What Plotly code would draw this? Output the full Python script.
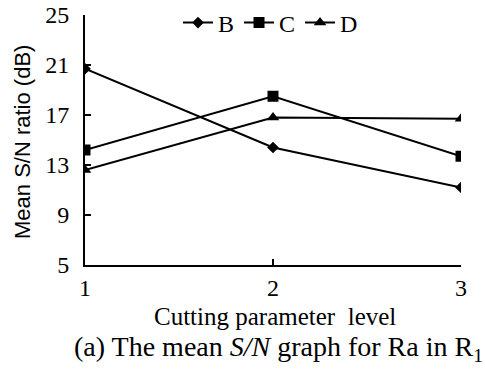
import plotly.graph_objects as go

levels = [1, 2, 3]
series_names = ["B", "C", "D"]
b_vals = [20.7, 14.4, 11.2]
c_vals = [14.2, 18.5, 13.7]
d_vals = [12.6, 16.8, 16.7]
y_ticks = [5, 9, 13, 17, 21, 25]
markers = ["diamond", "square", "triangle-up"]
marker_sizes = [9, 11, 11]

fig = go.Figure()
for name, vals, sym, ms in zip(series_names, [b_vals, c_vals, d_vals], markers, marker_sizes):
    fig.add_trace(go.Scatter(
        x=levels, y=vals, mode="lines+markers", name=name,
        line=dict(color="black", width=2),
        marker=dict(symbol=sym, size=ms, color="black"),
    ))

serif = "Liberation Serif"
L, R, T, B = 85, 24, 15, 106
pw = 485 - L - R
ph = 371 - T - B

def px(xp):
    return (xp - L) / pw

def py(yp):
    return (371 - B - yp) / ph

fig.update_layout(
    width=485, height=371,
    margin=dict(l=L, r=R, t=T, b=B, autoexpand=False),
    plot_bgcolor="white", paper_bgcolor="white",
    showlegend=True,
    legend=dict(orientation="h", x=px(178), y=py(23), xanchor="left", yanchor="middle",
                font=dict(family=serif, size=24, color="black"),
                itemwidth=30, tracegroupgap=0, bgcolor="rgba(0,0,0,0)"),
    xaxis=dict(range=[1, 3], tickvals=levels, ticktext=[str(v) for v in levels],
               showgrid=False, zeroline=False, showline=True, linecolor="black", linewidth=2,
               ticks="inside", ticklen=6, tickwidth=1.5, tickcolor="black",
               ticklabelstandoff=0, automargin=False,
               tickfont=dict(family=serif, size=24, color="black")),
    yaxis=dict(range=[5, 25], tickvals=y_ticks,
               showgrid=False, zeroline=False, showline=True, linecolor="black", linewidth=2,
               ticks="inside", ticklen=6, tickwidth=1.5, tickcolor="black",
               ticklabelstandoff=9, automargin=False,
               tickfont=dict(family=serif, size=24, color="black")),
    annotations=[
        dict(text="Cutting parameter  level", x=px(275), y=py(316), xref="paper", yref="paper",
             showarrow=False, xanchor="center", yanchor="middle",
             font=dict(family=serif, size=25, color="black")),
        dict(text="(a) The mean <i>S/N</i> graph for Ra in R<sub>1</sub>", x=px(72), y=py(348),
             xref="paper", yref="paper", showarrow=False, xanchor="left", yanchor="middle",
             font=dict(family=serif, size=28, color="black")),
        dict(text="Mean S/N ratio (dB)", x=px(22), y=py(142), xref="paper", yref="paper",
             showarrow=False, textangle=-90, xanchor="center", yanchor="middle",
             font=dict(family="Liberation Sans", size=22, color="black")),
    ],
)
fig.write_html("out.html")
